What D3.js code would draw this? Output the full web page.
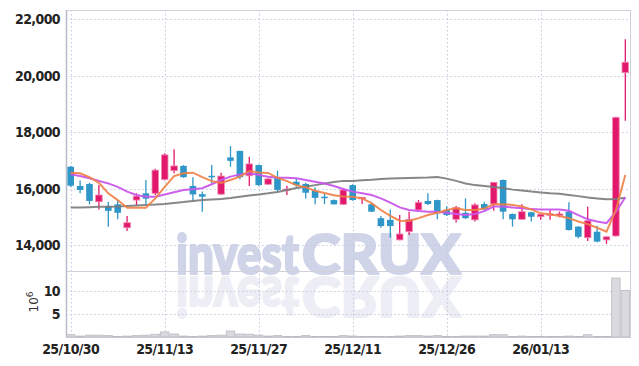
<!DOCTYPE html>
<html><head><meta charset="utf-8">
<script src="https://cdn.jsdelivr.net/npm/d3@7"></script>
<style>body{margin:0;background:#fff}svg{display:block}</style>
</head><body>
<svg id="c" width="639" height="366"></svg>
<script>
const dates = ["2025-10-30","2025-10-31","2025-11-03","2025-11-04","2025-11-05","2025-11-06","2025-11-07","2025-11-10","2025-11-11","2025-11-12",
"2025-11-13","2025-11-14","2025-11-17","2025-11-18","2025-11-19","2025-11-20","2025-11-21","2025-11-24","2025-11-25","2025-11-26",
"2025-11-27","2025-11-28","2025-12-01","2025-12-02","2025-12-03","2025-12-04","2025-12-05","2025-12-08","2025-12-09","2025-12-10",
"2025-12-11","2025-12-12","2025-12-15","2025-12-16","2025-12-17","2025-12-18","2025-12-19","2025-12-22","2025-12-23","2025-12-24",
"2025-12-26","2025-12-29","2025-12-30","2026-01-02","2026-01-05","2026-01-06","2026-01-07","2026-01-08","2026-01-09","2026-01-12",
"2026-01-13","2026-01-14","2026-01-15","2026-01-16","2026-01-19","2026-01-20","2026-01-21","2026-01-22","2026-01-23","2026-01-26"];
const open  = [16770,16090,16160,15530,15380,15440,14610,15590,15830,15830,16320,16630,16800,16090,15800,16450,15800,17100,17330,16450,
16830,16150,16400,15950,16240,16160,15920,15710,15590,15440,16120,15630,15440,14950,14890,14180,14470,15240,15560,15590,
15240,14910,15140,14890,15450,15450,16300,15100,14910,15160,15000,15080,15060,15180,14650,14260,14470,14180,14320,20100];
const high  = [16800,16280,16200,16120,15530,15590,15030,15830,16300,16700,17250,17390,16830,16400,15890,16830,16560,17500,17340,17120,
16850,16360,16630,16100,16360,16200,16040,15830,15610,16000,16150,15700,15500,15030,15260,15060,15180,15590,15830,15600,
15360,15380,15650,15480,15530,16230,16320,15110,15440,15180,15100,15240,15180,15510,14660,15350,14680,14310,18540,21280];
const low   = [16050,15830,15440,15260,14650,14910,14500,15380,15440,15770,16280,16540,16380,15560,15180,16180,15770,16770,16330,16090,
16090,16130,15890,15770,16060,15650,15440,15450,15430,15420,15570,15450,15170,14610,14260,14170,14350,15210,15420,14910,
15030,14800,14920,14830,15250,15210,14910,14650,14900,14830,14890,14890,14980,14510,14240,14140,14100,14040,14300,18400];
const close = [16100,15950,15560,15770,15210,15140,14790,15730,15640,16650,17190,16800,16400,15790,15710,16420,16440,16980,16400,16870,
16120,16340,15950,15980,16120,15850,15670,15670,15440,15950,15590,15690,15180,14670,14670,14390,14910,15510,15450,15120,
15060,15330,14950,15420,15260,16220,15180,14910,15180,15000,15090,15100,15100,14530,14290,14860,14120,14290,18520,20470];
const volume = [0.5,0.2,0.4,0.4,0.3,0.1,0.2,0.3,0.4,0.6,1.1,0.65,0.2,0.1,0.2,0.3,0.4,1.3,0.65,0.6,
0.4,0.2,0.3,0.1,0.1,0.3,0.1,0.1,0.1,0.3,0.2,0.1,0.1,0.1,0.1,0.2,0.3,0.3,0.2,0.3,
0.1,0.1,0.2,0.2,0.2,0.5,0.5,0.1,0.2,0.1,0.1,0.1,0.1,0.2,0.1,0.5,0.1,0.1,12.8,10.1];
const ma5  = [16560,16540,16400,16200,15830,15590,15320,15320,15320,15650,16060,16440,16540,16560,16400,16260,16200,16300,16420,16620,
16570,16550,16380,16260,16120,16040,15920,15840,15760,15720,15710,15650,15480,15240,15030,14860,14850,14950,15060,15140,
15240,15300,15240,15240,15290,15440,15440,15420,15360,15260,15120,15090,15030,14950,14830,14740,14610,14470,15240,16480];
const ma10 = [16500,16440,16360,16270,16180,16060,15890,15770,15710,15710,15790,15870,15950,15970,16010,16150,16300,16420,16500,16540,
16480,16420,16380,16380,16360,16300,16240,16180,16090,15980,15890,15830,15770,15650,15500,15330,15240,15200,15180,15180,
15140,15100,15060,15100,15200,15360,15360,15330,15300,15270,15260,15260,15260,15210,15060,14910,14830,14770,15170,15690];
const ma60 = [15330,15330,15340,15350,15350,15360,15380,15400,15420,15430,15450,15490,15520,15560,15590,15610,15630,15660,15710,15750,
15790,15830,15880,15950,16020,16060,16120,16180,16230,16270,16270,16290,16310,16340,16350,16360,16370,16380,16390,16410,
16350,16270,16180,16120,16090,16050,16020,15960,15930,15890,15860,15830,15810,15770,15730,15680,15650,15620,15630,15670];
const priceTicks = [14000,16000,18000,20000,22000];
const volTicks = [5,10];
const dateTicks = ["2025-10-30","2025-11-13","2025-11-27","2025-12-11","2025-12-26","2026-01-13"];
const dateTickLabels = ["25/10/30","25/11/13","25/11/27","25/12/11","25/12/26","26/01/13"];

const L=66,R=630,T=10,MB=271,VB=337;
const UP="#e2186c", DOWN="#2e96c8";
const FONT="'Liberation Sans Narrow','DejaVu Sans Condensed',sans-serif";
const svg=d3.select("#c");
const x=d3.scaleBand().domain(dates).range([L,R]);
const bw=x.bandwidth();
const cx=d=>x(d)+bw/2;
const y=d3.scaleLinear().domain([13115,22319]).range([270,T]);
const yv=d3.scaleLinear().domain([0,14.13]).range([VB,272]);
const data=dates.map((d,i)=>({d,o:open[i],h:high[i],l:low[i],c:close[i],v:volume[i]}));

// watermark
const wm=svg.append("g");
function wmText(g,fill){
  const t=g.append("text").attr("x",175).attr("y",274).attr("font-family","Lato,'Open Sans','DejaVu Sans',sans-serif")
    .attr("font-weight",900).attr("font-size",55).attr("fill",fill)
    .attr("stroke",fill).attr("stroke-width",2.2).attr("stroke-linejoin","round");
  t.append("tspan").attr("x",176).attr("textLength",123).attr("lengthAdjust","spacingAndGlyphs").text("invest");
  t.append("tspan").attr("x",302).attr("textLength",159).attr("lengthAdjust","spacingAndGlyphs").text("CRUX");
}
wmText(wm,"#cfd4e8");
const refl=wm.append("g").attr("transform","translate(0,551) scale(1,-1)").attr("opacity",0.45);
wmText(refl,"#d8dbea");

// grid
const grid=svg.append("g").attr("stroke","#c5c8da").attr("stroke-dasharray","1.5,2.5").attr("stroke-width",1);
grid.selectAll("line.h").data(priceTicks).join("line").attr("x1",L).attr("x2",R)
  .attr("y1",d=>Math.round(y(d))+0.5).attr("y2",d=>Math.round(y(d))+0.5);
grid.selectAll("line.v2").data(volTicks).join("line").attr("class","v2").attr("x1",L).attr("x2",R)
  .attr("y1",d=>Math.round(yv(d))+0.5).attr("y2",d=>Math.round(yv(d))+0.5);
grid.selectAll("line.vv").data(dateTicks).join("line").attr("class","vv")
  .attr("x1",d=>Math.round(cx(d))+0.5).attr("x2",d=>Math.round(cx(d))+0.5).attr("y1",T).attr("y2",VB);

// frame
svg.append("rect").attr("x",L+0.5).attr("y",T+0.5).attr("width",R-L).attr("height",VB-T)
  .attr("fill","none").attr("stroke","#cfd0da");
svg.append("line").attr("x1",L).attr("x2",R).attr("y1",MB+0.5).attr("y2",MB+0.5).attr("stroke","#cfd0da");
svg.append("line").attr("x1",L+0.5).attr("x2",L+0.5).attr("y1",T).attr("y2",VB).attr("stroke","#b8bccc").attr("stroke-width",1.5);

// volume
svg.append("g").selectAll("rect").data(data).join("rect")
  .attr("x",d=>x(d.d)+0.5).attr("width",bw-1).attr("y",d=>yv(d.v)).attr("height",d=>VB-yv(d.v))
  .attr("fill","#d9d9de").attr("stroke","#b9b9c2").attr("stroke-width",0.8);

// candles
const cg=svg.append("g");
const cw=bw*0.7;
cg.selectAll("line").data(data).join("line")
  .attr("x1",d=>cx(d.d)).attr("x2",d=>cx(d.d)).attr("y1",d=>y(d.h)).attr("y2",d=>y(d.l))
  .attr("stroke",d=>d.c>=d.o?UP:DOWN).attr("stroke-width",1.3);
cg.selectAll("rect").data(data).join("rect")
  .attr("x",d=>cx(d.d)-cw/2).attr("width",cw)
  .attr("y",d=>y(Math.max(d.o,d.c))).attr("height",d=>Math.max(1.5,Math.abs(y(d.o)-y(d.c))))
  .attr("fill",d=>d.c>=d.o?UP:DOWN)
  .attr("stroke",d=>d.c>=d.o?"#f08cb4":"none").attr("stroke-width",0.8);

// MA lines
function maLine(arr,color,w,op){
  svg.append("path").datum(arr).attr("fill","none").attr("stroke",color).attr("stroke-width",w).attr("opacity",op)
    .attr("d",d3.line().x((v,i)=>cx(dates[i])).y(v=>y(v)));
}
maLine(ma60,"#7a7a7a",2,0.9);
maLine(ma10,"#c957ec",2,0.95);
maLine(ma5,"#f07f45",2,0.9);

// axes labels
const ax=svg.append("g").attr("font-family",FONT).attr("font-weight","bold").attr("font-size",14).attr("fill","#222");
ax.selectAll("text.p").data(priceTicks).join("text").attr("x",60).attr("y",d=>y(d)+5)
  .attr("text-anchor","end").attr("letter-spacing","-0.6").text(d3.format(","));
ax.selectAll("text.vt").data(volTicks).join("text").attr("class","vt").attr("x",60).attr("y",d=>yv(d)+5)
  .attr("text-anchor","end").attr("letter-spacing","-0.6").text(d=>d);
ax.selectAll("text.dt").data(dateTicks).join("text").attr("class","dt").attr("x",d=>cx(d)).attr("y",354)
  .attr("text-anchor","middle").attr("letter-spacing","-0.6").text((d,i)=>dateTickLabels[i]);
const ul=svg.append("text").attr("transform","translate(38,302) rotate(-90)").attr("font-family","'DejaVu Sans',sans-serif")
  .attr("font-size",12).attr("fill","#333").attr("text-anchor","middle");
ul.append("tspan").text("10");
ul.append("tspan").attr("dy",-5).attr("font-size",9).text("6");
</script>
</body></html>
